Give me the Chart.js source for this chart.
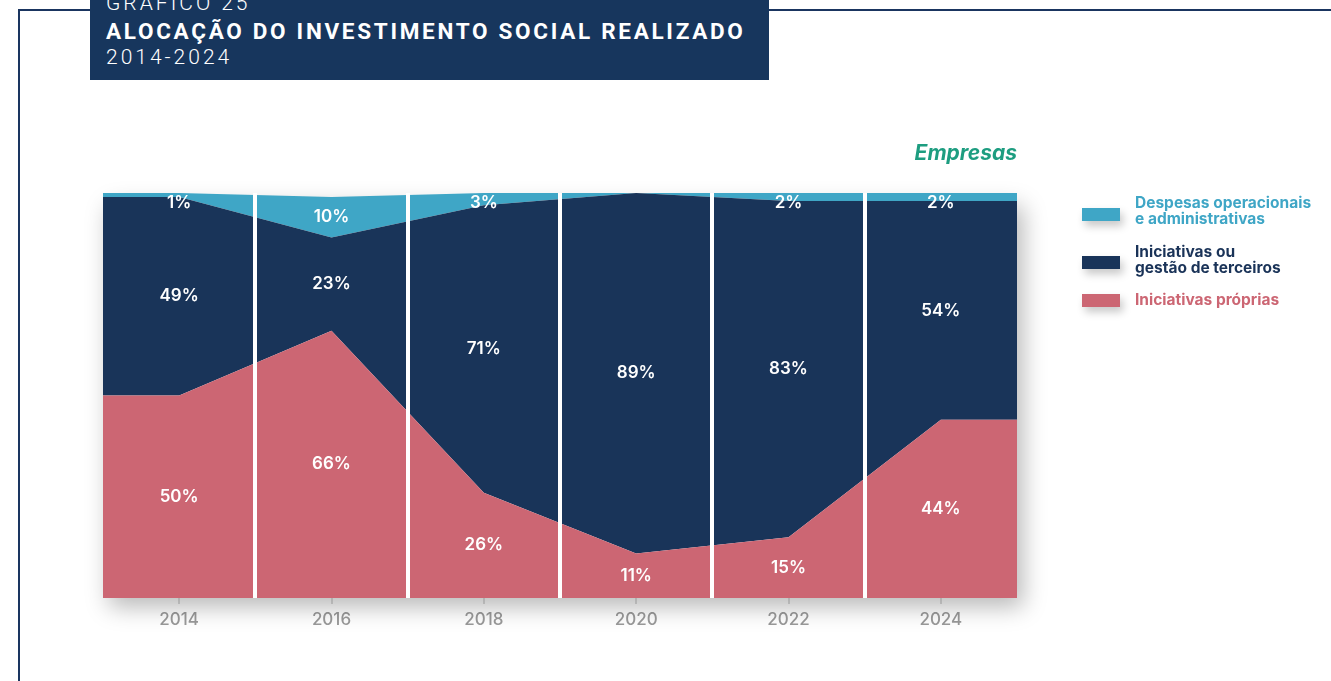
<!DOCTYPE html>
<html><head><meta charset="utf-8">
<script src="https://cdn.jsdelivr.net/npm/chart.js@4.4.1/dist/chart.umd.min.js"></script>
<style>
html,body{margin:0;padding:0;background:#fff;width:1331px;height:681px;overflow:hidden;font-family:Inter,"Open Sans",sans-serif;}
#frameTop{position:absolute;left:18px;top:9px;width:1313px;height:2px;background:#1a3560;}
#frameLeft{position:absolute;left:18px;top:9px;width:2px;height:672px;background:#1a3560;}
#titlebox{position:absolute;left:90px;top:0;width:679px;height:80px;background:#17365d;color:#fff;overflow:hidden;}
#t0{position:absolute;left:16px;top:-9px;font-family:Roboto;font-weight:300;font-size:21px;letter-spacing:3px;white-space:nowrap;}
#t1{position:absolute;left:16px;top:18px;font-family:Roboto;font-weight:700;font-size:22.5px;letter-spacing:2.7px;white-space:nowrap;}
#t2{position:absolute;left:16px;top:45px;font-family:Roboto;font-weight:300;font-size:21px;letter-spacing:3px;white-space:nowrap;}
#emp{position:absolute;right:314px;top:140px;font-family:Inter;font-style:italic;font-weight:700;font-size:21px;color:#1d9d80;}
#wrap{position:absolute;left:0;top:0;width:1331px;height:681px;}
.lg{position:absolute;left:1082px;font-family:Inter;font-weight:700;font-size:15.5px;line-height:16px;}
.lg .sw{position:absolute;left:0;width:38px;height:13px;box-shadow:3px 5px 8px rgba(0,0,0,0.22);}
.lg .tx{position:absolute;left:53px;white-space:nowrap;}
</style></head>
<body>
<div id="frameTop"></div><div id="frameLeft"></div>
<div id="wrap"><canvas id="c" width="1331" height="681"></canvas></div>
<div id="titlebox">
<div id="t0">GRÁFICO 25</div>
<div id="t1">ALOCAÇÃO DO INVESTIMENTO SOCIAL REALIZADO</div>
<div id="t2">2014-2024</div>
</div>
<div id="emp">Empresas</div>
<div class="lg" style="top:195px;color:#3fa6c6"><div class="sw" style="top:13px;background:#3fa6c6"></div><div class="tx">Despesas operacionais<br>e administrativas</div></div>
<div class="lg" style="top:244px;color:#1a3358"><div class="sw" style="top:12px;background:#193459"></div><div class="tx">Iniciativas ou<br>gestão de terceiros</div></div>
<div class="lg" style="top:292px;color:#cc6673"><div class="sw" style="top:2px;background:#cc6673"></div><div class="tx">Iniciativas próprias</div></div>
<script>
const years = [2014, 2016, 2018, 2020, 2022, 2024];
const proprias = [50, 66, 26, 11, 15, 44];
const terceiros = [49, 23, 71, 89, 83, 54];
const despesas = [1, 10, 3, 0, 2, 2];
const seriesNames = ['Iniciativas próprias', 'Iniciativas ou gestão de terceiros', 'Despesas operacionais e administrativas'];
const colors = ['#cc6673', '#193459', '#3fa6c6'];

const xMin = years[0] - 1, xMax = years[years.length - 1] + 1;
function pts(vals) {
  const p = years.map((y, i) => ({x: y, y: vals[i]}));
  return [{x: xMin, y: vals[0]}, ...p, {x: xMax, y: vals[vals.length - 1]}];
}
const allSeries = [proprias, terceiros, despesas];

const shadowPlugin = {
  id: 'shadow',
  beforeDatasetsDraw(chart) {
    const a = chart.chartArea, ctx = chart.ctx;
    ctx.save();
    ctx.shadowColor = 'rgba(0,0,0,0.28)';
    ctx.shadowBlur = 22;
    ctx.shadowOffsetX = 6;
    ctx.shadowOffsetY = 9;
    ctx.fillStyle = '#fff';
    ctx.fillRect(a.left, a.top + 4, a.right - a.left, a.bottom - a.top - 4);
    ctx.restore();
  }
};
const labelPlugin = {
  id: 'vlabels',
  afterDatasetsDraw(chart) {
    const ctx = chart.ctx, xs = chart.scales.x, ys = chart.scales.y;
    ctx.save();
    ctx.fillStyle = '#fff';
    ctx.font = '600 17px Inter';
    ctx.textAlign = 'center';
    ctx.textBaseline = 'middle';
    years.forEach((yr, i) => {
      let base = 0;
      allSeries.forEach(s => {
        const v = s[i];
        if (v > 0) {
          const yMid = (ys.getPixelForValue(base) + ys.getPixelForValue(base + v)) / 2;
          let yy = yMid;
          if (v < 5) yy = ys.getPixelForValue(base + v) + 10;
          ctx.fillText(v + '%', xs.getPixelForValue(yr), yy);
        }
        base += v;
      });
    });
    ctx.restore();
  }
};

new Chart(document.getElementById('c'), {
  type: 'line',
  data: {
    datasets: allSeries.map((s, i) => ({
      label: seriesNames[i],
      data: pts(s),
      backgroundColor: colors[i],
      borderColor: colors[i],
      borderWidth: 0,
      pointRadius: 0,
      tension: 0,
      fill: i === 0 ? 'origin' : '-1'
    }))
  },
  options: {
    responsive: false,
    animation: false,
    layout: {padding: {left: 103, right: 314, top: 193, bottom: 43}},
    plugins: {legend: {display: false}, tooltip: {enabled: false}},
    scales: {
      y: {display: false, stacked: true, min: 0, max: 100},
      x: {
        type: 'linear', min: xMin, max: xMax,
        afterBuildTicks(scale) {
          const t = [];
          for (let v = xMin; v <= xMax; v++) t.push({value: v});
          scale.ticks = t;
        },
        afterFit(scale) { scale.height = 40; },
        border: {display: false},
        grid: {
          z: 1,
          drawOnChartArea: true,
          offset: false,
          lineWidth: 4,
          color: c => (c.tick && c.tick.value > xMin && c.tick.value < xMax && c.tick.value % 2 === 1) ? '#ffffff' : 'rgba(0,0,0,0)',
          tickColor: c => (c.tick && years.includes(c.tick.value)) ? '#999' : 'rgba(0,0,0,0)',
          tickWidth: 1,
          tickLength: 6
        },
        ticks: {
          autoSkip: false,
          maxRotation: 0,
          color: '#9a9a9a',
          padding: 6,
          font: {family: 'Inter', size: 17, weight: '500'},
          callback: v => years.includes(v) ? String(v) : ''
        }
      }
    }
  },
  plugins: [shadowPlugin, labelPlugin]
});
</script>
</body></html>
